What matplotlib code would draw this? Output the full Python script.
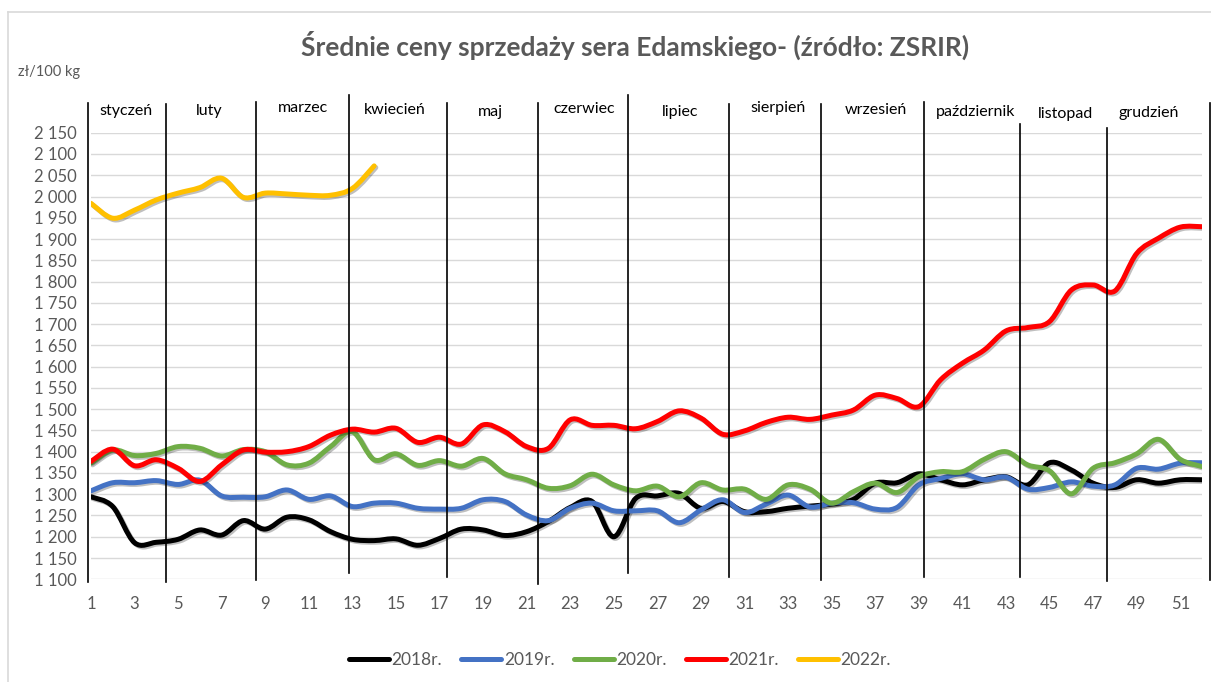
import matplotlib
matplotlib.use("Agg")
import matplotlib.pyplot as plt
import matplotlib.patheffects as pe
from matplotlib.path import Path
from matplotlib.patches import PathPatch
from matplotlib.lines import Line2D
from matplotlib.ticker import FuncFormatter

plt.rcParams["font.family"] = ["Lato", "DejaVu Sans"]

# Weekly prices (zł/100 kg)
weeks = list(range(1, 53))

price_2018 = [1294, 1271, 1186, 1187, 1194, 1216, 1204, 1238, 1218, 1246,
              1240, 1212, 1194, 1191, 1195, 1180, 1196, 1218, 1216, 1203,
              1212, 1236, 1269, 1283, 1200, 1290, 1296, 1302, 1267, 1283,
              1259, 1259, 1267, 1272, 1277, 1288, 1326, 1327, 1348, 1334,
              1322, 1334, 1341, 1322, 1374, 1357, 1326, 1316, 1334, 1326,
              1334, 1334]
price_2019 = [1308, 1327, 1327, 1332, 1323, 1333, 1296, 1293, 1294, 1310,
              1288, 1296, 1271, 1279, 1279, 1267, 1265, 1267, 1287, 1283,
              1251, 1238, 1267, 1279, 1261, 1261, 1261, 1233, 1263, 1287,
              1257, 1277, 1298, 1270, 1279, 1280, 1265, 1269, 1322, 1337,
              1348, 1334, 1340, 1312, 1316, 1329, 1319, 1322, 1361, 1359,
              1373, 1374]
price_2020 = [1373, 1404, 1391, 1396, 1412, 1408, 1390, 1405, 1400, 1369,
              1373, 1412, 1447, 1381, 1395, 1368, 1379, 1366, 1384, 1348,
              1334, 1314, 1320, 1347, 1322, 1308, 1319, 1294, 1327, 1310,
              1312, 1288, 1322, 1312, 1279, 1306, 1326, 1304, 1341, 1353,
              1353, 1382, 1400, 1369, 1355, 1301, 1361, 1374, 1395, 1429,
              1382, 1365]
price_2021 = [1377, 1406, 1367, 1381, 1361, 1330, 1369, 1404, 1399, 1400,
              1412, 1439, 1453, 1446, 1455, 1422, 1434, 1418, 1463, 1447,
              1412, 1408, 1475, 1462, 1462, 1454, 1471, 1496, 1479, 1441,
              1449, 1469, 1481, 1476, 1486, 1498, 1533, 1525, 1506, 1569,
              1608, 1639, 1684, 1692, 1706, 1780, 1792, 1778, 1866, 1902,
              1928, 1929]
price_2022 = [1984, 1949, 1968, 1992, 2008, 2021, 2043, 1998, 2008, 2006,
              2003, 2003, 2019, 2072]

series_names = ["2018r.", "2019r.", "2020r.", "2021r.", "2022r."]
series_colors = ["#000000", "#4472C4", "#70AD47", "#FF0000", "#FFC000"]

month_names = ["styczeń", "luty", "marzec", "kwiecień", "maj", "czerwiec",
               "lipiec", "sierpień", "wrzesień", "październik", "listopad",
               "grudzień"]
# label positions (week units / price units)
month_label_x = [2.59, 6.42, 10.72, 14.96, 19.32, 23.64, 28.04, 32.53,
                 37.04, 41.62, 45.72, 49.53]
month_label_y = [2202, 2202, 2209, 2203, 2199, 2206, 2199, 2208, 2203,
                 2199, 2194, 2197]
# vertical separators between months
sep_x = [0.86, 4.44, 8.58, 12.85, 17.35, 21.52, 25.66, 30.29, 34.52,
         39.25, 43.65, 47.65, 52.38]
sep_top = [2220, 2218, 2222, 2239, 2220, 2220, 2239, 2218, 2218, 2222,
           2170, 2161, 2220]
sep_bottom = [1093, 1093, 1098, 1114, 1105, 1088, 1114, 1105, 1098, 1105,
              1105, 1095, 1098]


def smooth_path(x, y):
    # Excel-like smoothed line (cubic bezier, catmull-rom style)
    n = len(x)
    verts = [(x[0], y[0])]
    codes = [Path.MOVETO]
    for i in range(n - 1):
        a = i - 1 if i > 0 else i
        d = i + 2 if i + 2 < n else i + 1
        c1 = (x[i] + (x[i + 1] - x[a]) / 6, y[i] + (y[i + 1] - y[a]) / 6)
        c2 = (x[i + 1] - (x[d] - x[i]) / 6, y[i + 1] - (y[d] - y[i]) / 6)
        verts += [c1, c2, (x[i + 1], y[i + 1])]
        codes += [Path.CURVE4] * 3
    return Path(verts, codes)


fig = plt.figure(figsize=(12.11, 6.82), dpi=100)
ax = fig.add_axes([0.0751, 0.1506, 0.9175, 0.6548])

ax.set_xlim(1, 52)
ax.set_ylim(1100, 2150)
ax.set_yticks(range(1100, 2151, 50))
ax.set_xticks(range(1, 53, 2))
ax.yaxis.set_major_formatter(FuncFormatter(lambda v, p: f"{v:,.0f}".replace(",", " ")))
ax.grid(axis="y", color="#D9D9D9", linewidth=1.0)
ax.set_axisbelow(True)
for s in ax.spines.values():
    s.set_visible(False)
ax.tick_params(length=0, labelsize=12, colors="#595959")
ax.tick_params(axis="x", pad=12)
ax.tick_params(axis="y", pad=10)

all_series = [price_2018, price_2019, price_2020, price_2021, price_2022]
for vals, col in zip(all_series, series_colors):
    path = smooth_path(weeks[:len(vals)], vals)
    patch = PathPatch(path, fill=False, edgecolor=col, linewidth=3.6,
                      capstyle="round", joinstyle="round", zorder=3,
                      path_effects=[pe.SimpleLineShadow(offset=(1.2, -1.2), alpha=0.25),
                                    pe.Normal()])
    ax.add_patch(patch)

for x, t, b in zip(sep_x, sep_top, sep_bottom):
    ax.plot([x, x], [b, t], color="black", linewidth=1.2, clip_on=False, zorder=4)

for name, x, y in zip(month_names, month_label_x, month_label_y):
    ax.text(x, y, name, ha="center", va="center", fontsize=11.5, color="black",
            clip_on=False)

fig.text(0.524, 0.934, "Średnie ceny sprzedaży sera Edamskiego- (źródło: ZSRIR)",
         ha="center", va="center", fontsize=19, fontweight="bold", color="#595959")
fig.text(0.015, 0.894, "zł/100 kg", ha="left", va="center", fontsize=10.5, color="#595959")

handles = [Line2D([], [], color=c, linewidth=3.6, solid_capstyle="round") for c in series_colors]
fig.legend(handles, series_names, loc="center", bbox_to_anchor=(0.512, 0.032), ncol=5,
           frameon=False, fontsize=12.5, handlelength=2.3, handletextpad=0.15,
           columnspacing=1.1, labelcolor="#595959")

# chart area border
fig.add_artist(Line2D([8 / 1211, 8 / 1211], [0, 1 - 12 / 682], color="#D9D9D9", linewidth=1.2))
fig.add_artist(Line2D([8 / 1211, 1], [1 - 12 / 682, 1 - 12 / 682], color="#D9D9D9", linewidth=1.2))

fig.savefig("out.png", dpi=100)
